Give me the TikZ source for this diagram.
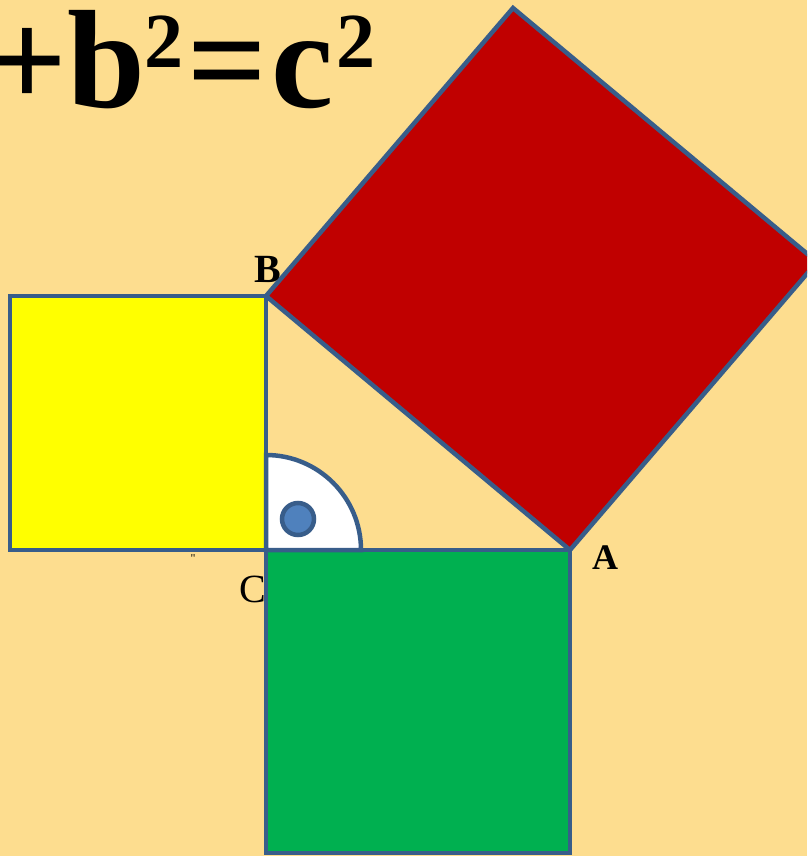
\documentclass[tikz,border=0pt]{standalone}
\usepackage{fontspec}
\setmainfont{Liberation Serif}
\definecolor{bg}{RGB}{253,221,143}
\definecolor{edge}{RGB}{56,93,138}
\definecolor{sqyellow}{RGB}{255,255,0}
\definecolor{sqred}{RGB}{192,0,0}
\definecolor{sqgreen}{RGB}{0,176,80}
\definecolor{dotblue}{RGB}{79,129,189}
\begin{document}
\begin{tikzpicture}[x=1pt,y=-1pt,
  sq/.style={draw=edge,line width=4.5pt,line join=miter},
  lbl/.style={inner sep=0pt,text=black}]
\useasboundingbox (0,0) rectangle (807,856);
\clip (0,0) rectangle (807,856);
\fill[bg] (0,0) rectangle (807,856);
\coordinate (C) at (266,550);
\coordinate (B) at (266,296);
\coordinate (A) at (570,550);
\coordinate (T) at (513,8);
\coordinate (R) at (817,262);
\node[lbl,anchor=base west,font=\fontsize{140}{140}\bfseries] (title) at (-13,108)
  {+b\raisebox{40pt}{\fontsize{78}{78}\selectfont 2}\kern4pt=\kern4pt c\kern3pt\raisebox{40pt}{\fontsize{78}{78}\selectfont 2}};
\node[lbl,anchor=base,font=\fontsize{40}{40}\selectfont] (lc) at (253,602) {C};
\node[lbl,anchor=base,font=\fontsize{12}{12}\selectfont] (mark) at (193,562) {\textquotedbl};
\path[sq,fill=sqyellow] (10,296) rectangle (C);
\path[sq,fill=sqgreen] (C) rectangle (570,853);
\path[sq,fill=sqred] (B) -- (A) -- (R) -- (T) -- cycle;
\path[sq,fill=white] (C) -- ++(95,0) arc[start angle=0,end angle=-90,radius=95] -- cycle;
\node[circle,draw=edge,line width=4.5pt,fill=dotblue,minimum size=32pt,inner sep=0pt] (dot) at (298,519) {};
\node[lbl,anchor=base,font=\fontsize{40}{40}\bfseries] (lb) at (268,282) {B};
\node[lbl,anchor=base,font=\fontsize{36}{36}\bfseries] (la) at (605,569) {A};
\end{tikzpicture}
\end{document}
